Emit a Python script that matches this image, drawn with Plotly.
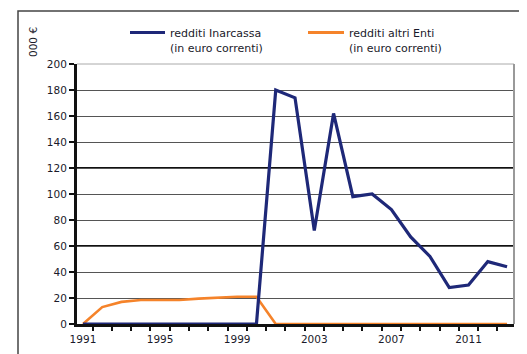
import plotly.graph_objects as go

years = list(range(1991, 2014))
inarcassa = [0, 0, 0, 0, 0, 0, 0, 0, 0, 0, 180, 174, 72, 162, 98, 100, 88, 67, 52, 28, 30, 48, 44]
altri_enti = [0, 13, 17, 18.5, 18.5, 18.5, 19.5, 20.5, 21, 21, 0, 0, 0, 0, 0, 0, 0, 0, 0, 0, 0, 0, 0]
tick_years = [1991, 1995, 1999, 2003, 2007, 2011]
y_ticks = list(range(0, 201, 20))
legend_labels = ["redditi Inarcassa", "redditi altri Enti"]
legend_sub = "(in euro correnti)"
y_title = "000 €"

BLUE = "#1e2878"
ORANGE = "#f5832a"
FONT = "DejaVu Sans"
TXT = "#1a1a2a"

fig = go.Figure()
fig.add_trace(go.Scatter(x=years, y=altri_enti, mode="lines",
                         line=dict(color=ORANGE, width=2.6), showlegend=False))
fig.add_trace(go.Scatter(x=years, y=inarcassa, mode="lines",
                         line=dict(color=BLUE, width=3.2), showlegend=False))

# page body has an 8px margin, so the figure is drawn offset by 8px
OFF = 8
W, H = 527 - OFF, 354 - OFF
# plot area in screen pixels: x 77..514, y 64..324
L, T = 77 - OFF, 64 - OFF
R = W - (514 - OFF)
B = H - (324 - OFF)
pw, ph = W - L - R, H - T - B

def px(x):  # screen x -> paper
    return (x - OFF - L) / pw

def py(y):  # screen y -> paper
    return (H - B - (y - OFF)) / ph

shapes = []
# outer frame
shapes.append(dict(type="rect", xref="paper", yref="paper",
                   x0=px(18), x1=px(545), y0=py(370), y1=py(11),
                   line=dict(color="#444", width=1.5), layer="below"))
# plot area top/right border
shapes.append(dict(type="line", xref="paper", yref="paper", x0=0, x1=1, y0=1, y1=1,
                   line=dict(color="#aaa", width=1)))
shapes.append(dict(type="line", xref="paper", yref="paper", x0=1, x1=1, y0=0, y1=1,
                   line=dict(color="#999", width=2)))
# darker grid lines as in reference
for v in (60, 120):
    shapes.append(dict(type="line", xref="paper", yref="y", x0=0, x1=1, y0=v, y1=v,
                       line=dict(color="#111", width=2), layer="below"))

annotations = []
# legend (manual)
leg = [(130, 165, 168, BLUE, legend_labels[0]), (308, 344, 347, ORANGE, legend_labels[1])]
for x0, x1, tx, col, lab in leg:
    shapes.append(dict(type="line", xref="paper", yref="paper",
                       x0=px(x0), x1=px(x1), y0=py(32.5), y1=py(32.5),
                       line=dict(color=col, width=3)))
    annotations.append(dict(x=px(tx), y=py(34), xref="paper", yref="paper",
                            text=lab, showarrow=False, xanchor="left", yanchor="middle",
                            font=dict(family=FONT, size=11, color=TXT)))
    annotations.append(dict(x=px(tx), y=py(48.5), xref="paper", yref="paper",
                            text=legend_sub, showarrow=False, xanchor="left", yanchor="middle",
                            font=dict(family=FONT, size=11, color=TXT)))
annotations.append(dict(x=px(33), y=py(42), xref="paper", yref="paper",
                        text=y_title, showarrow=False, textangle=-90,
                        xanchor="center", yanchor="middle",
                        font=dict(family=FONT, size=10.5, color=TXT)))

fig.update_layout(
    width=W, height=H,
    margin=dict(l=L, r=R, t=T, b=B, autoexpand=False),
    paper_bgcolor="white", plot_bgcolor="white",
    font=dict(family=FONT, size=10.5, color=TXT),
    shapes=shapes, annotations=annotations,
    showlegend=False,
)
fig.update_xaxes(
    range=[1990.69, 2013.36], tickvals=tick_years, ticktext=[str(t) for t in tick_years],
    showgrid=False, zeroline=False,
    showline=True, linecolor="#111", linewidth=3,
    ticks="", ticklabelstandoff=3,
    minor=dict(dtick=1, tick0=1991.5, ticks="outside", ticklen=4, tickcolor="#111", tickwidth=2, showgrid=False),
    tickfont=dict(family=FONT, size=10.5, color=TXT),
)
fig.update_yaxes(
    range=[0, 200], tickvals=y_ticks,
    showgrid=True, gridcolor="#555", gridwidth=1, zeroline=False,
    showline=True, linecolor="#111", linewidth=3,
    ticks="outside", ticklen=5, tickcolor="#111", tickwidth=2,
    tickfont=dict(family=FONT, size=10.5, color=TXT),
)

fig.write_html("out.html")
